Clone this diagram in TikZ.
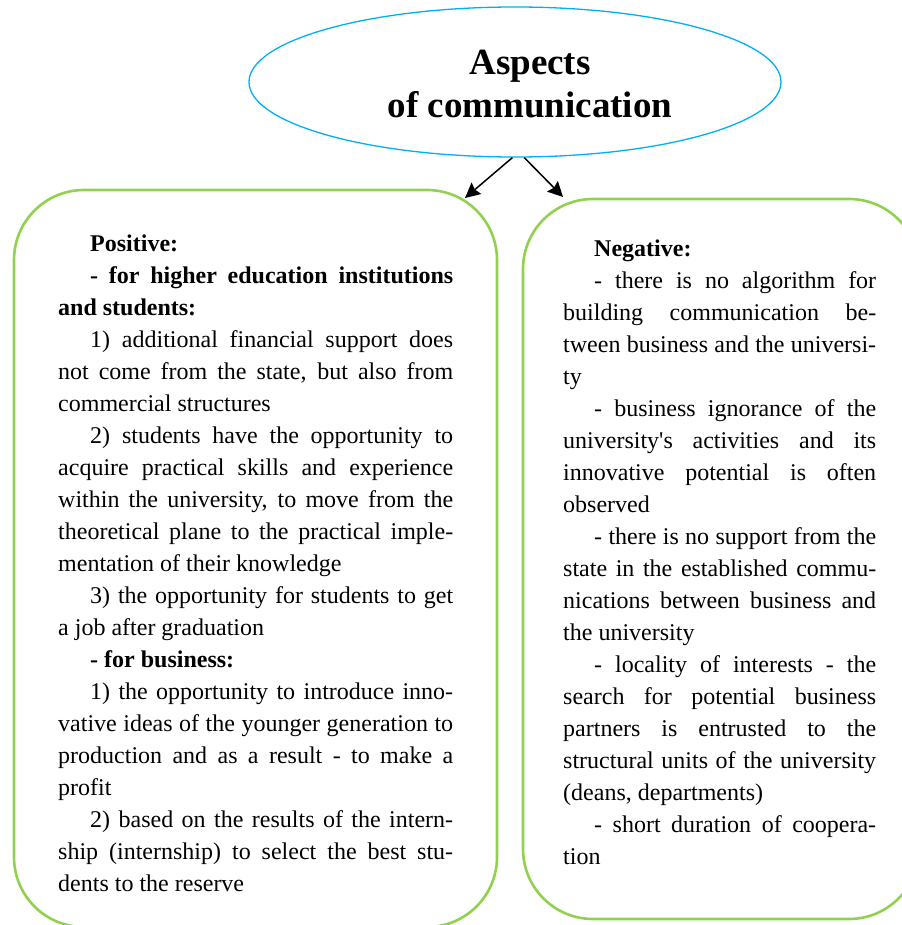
\documentclass[tikz,border=0pt]{standalone}
\usepackage{fontspec}
\setmainfont{Liberation Serif}
\usetikzlibrary{shapes.geometric,arrows.meta}
\definecolor{ellblue}{HTML}{00B0F0}
\definecolor{boxgreen}{HTML}{92D050}
\newcommand\ind{\hspace*{32pt}}
\begin{document}
\begin{tikzpicture}[x=1pt,y=1pt,
  titleell/.style={draw=ellblue,line width=1.3pt,ellipse,inner sep=0pt,minimum width=532pt,minimum height=150pt},
  titletext/.style={align=center,font=\fontsize{37}{43}\selectfont\bfseries,inner sep=0pt},
  aspectbox/.style={draw=boxgreen,line width=2.6pt,rounded corners=70pt},
  bodytext/.style={anchor=north west,inner sep=0pt,align=justify,
    font=\fontsize{24}{32}\selectfont\setlength\parindent{0pt}},
  link/.style={line width=1.5pt,-{Stealth[length=15pt,width=15pt,inset=2pt]}}]
\useasboundingbox (0,0) rectangle (901,-925);

% title
\node[titleell] (ell) at (515,-82) {};
\node[titletext] (title) at (530,-84) {Aspects\\of communication};

% the two boxes
\draw[aspectbox] (14,-190) rectangle (497,-927);
\draw[aspectbox] (523,-199) rectangle (919,-919);
\coordinate (pos) at (465,-198);
\coordinate (neg) at (563,-197);

\draw[link] (ell.268.5) -- (pos);
\draw[link] (ell.277.6) -- (neg);

% positive aspects
\node[bodytext,text width=395pt] (ptext) at (58,-229) {\strut
\ind\textbf{Positive:}\par
\ind\textbf{- for higher education institutions\linebreak and students:}\par
\ind 1) additional financial support does\linebreak not come from the state, but also from\linebreak commercial structures\par
\ind 2) students have the opportunity to\linebreak acquire practical skills and experience\linebreak within the university, to move from the\linebreak theoretical plane to the practical imple-\linebreak mentation of their knowledge\par
\ind 3) the opportunity for students to get\linebreak a job after graduation\par
\ind\textbf{- for business:}\par
\ind 1) the opportunity to introduce inno-\linebreak vative ideas of the younger generation to\linebreak production and as a result - to make a\linebreak profit\par
\ind 2) based on the results of the intern-\linebreak ship (internship) to select the best stu-\linebreak dents to the reserve};

% negative aspects
\node[bodytext,text width=313pt] (ntext) at (563,-234) {\strut
\hspace*{31pt}\textbf{Negative:}\par
\hspace*{31pt}- there is no algorithm for\linebreak building communication be-\linebreak tween business and the universi-\linebreak ty\par
\hspace*{31pt}- business ignorance of the\linebreak university\textquotesingle s activities and its\linebreak innovative potential is often\linebreak observed\par
\hspace*{31pt}- there is no support from the\linebreak state in the established commu-\linebreak nications between business and\linebreak the university\par
\hspace*{31pt}- locality of interests - the\linebreak search for potential business\linebreak partners is entrusted to the\linebreak structural units of the university\linebreak (deans, departments)\par
\hspace*{31pt}- short duration of coopera-\linebreak tion};
\end{tikzpicture}
\end{document}
